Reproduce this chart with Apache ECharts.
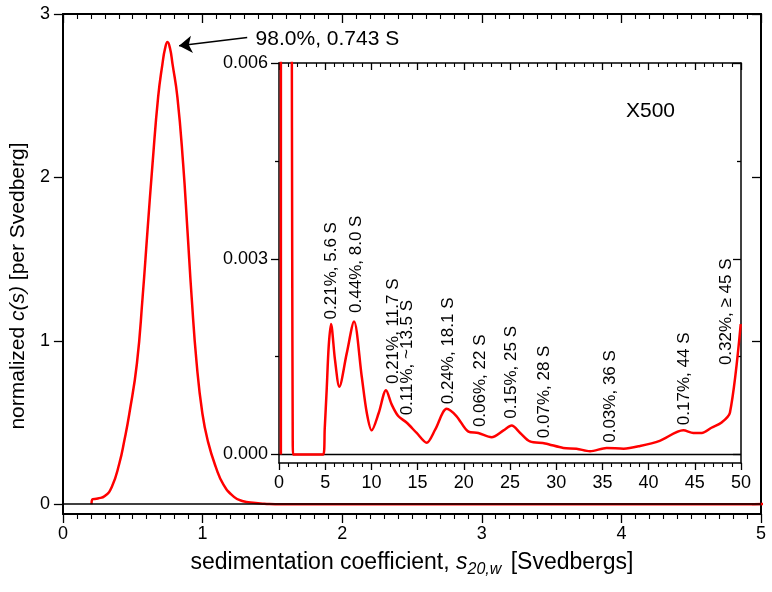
<!DOCTYPE html>
<html><head><meta charset="utf-8">
<script src="https://cdn.jsdelivr.net/npm/echarts@6/dist/echarts.min.js"></script>
<style>html,body{margin:0;padding:0;background:#fff}#c{width:772px;height:592px}</style>
</head><body><div id="c"></div>
<script>
// ---- data (s in Svedbergs, c(s) per Svedberg) ----
const sValues = [0.205,0.21,0.25,0.30,0.35,0.404,0.44,0.476,0.530,0.571,0.606,0.642,0.682,0.713,0.732,0.749,0.767,0.785,0.820,0.861,0.892,0.922,0.958,0.999,1.04,1.094,1.15,1.225,1.284,1.38,1.43,1.48,1.52,2.0,3.0,4.0,4.8,4.95,5.16,5.38,5.63,6.06,6.53,7.33,8.12,8.95,9.5,10.03,10.8,11.58,12.2,12.9,13.8,14.9,15.98,16.9,18.15,19.2,20.5,21.57,23.0,24.3,25.18,26.1,27.16,28.8,30.77,32.2,33.66,35.46,37.3,39.07,41.2,43.76,44.84,45.75,46.8,47.9,48.8,49.97];
const cValues = [0,0.028,0.035,0.05,0.105,0.249,0.39,0.555,0.861,1.268,1.676,2.084,2.491,2.695,2.79,2.828,2.79,2.695,2.491,2.084,1.676,1.268,0.861,0.555,0.38,0.23,0.12,0.045,0.02,0.007,0.003,0.0005,0,0,0,0,0,0.0004,0.00099,0.00166,0.0020,0.00145,0.00104,0.00155,0.00204,0.0012,0.00064,0.00037,0.00064,0.000985,0.000765,0.00059,0.00049,0.00033,0.00018,0.00038,0.0007,0.00059,0.00035,0.00033,0.000265,0.00037,0.000444,0.00033,0.0002,0.00017,0.0001,0.00009,0.00005,0.0001,0.00009,0.00013,0.00021,0.00037,0.00033,0.00033,0.00041,0.00049,0.00064,0.002];

const mainYTicks = [0,1,2,3];
const insetYTicks = [0,0.003,0.006];
const insetYMinor = [0.0015,0.0045];

const peakText = '98.0%, 0.743 S';
const peakArrowFrom = [1.32,2.856];
const peakArrowTo = [0.832,2.805];
const peakTextAt = [1.38,2.846];

const annoText = ['0.21%, 5.6 S','0.44%, 8.0 S','0.21%, 11.7 S','0.11%, ~13.5 S','0.24%, 18.1 S','0.06%, 22 S','0.15%, 25 S','0.07%, 28 S','0.03%, 36 S','0.17%, 44 S','0.32%, \u2265 45 S'];
const annoS = [5.70,8.40,12.37,13.89,18.32,21.75,25.18,28.68,35.82,43.86,48.45];
const annoC = [0.00207,0.00217,0.00108,0.00060,0.00077,0.00042,0.00055,0.00025,0.00018,0.00045,0.00137];

const FONT = '"Liberation Sans", Arial, Helvetica, sans-serif';
const curve = sValues.map((s,i)=>[s,cValues[i]]);
const annoData = annoText.map((t,i)=>({value:[annoS[i],annoC[i]], label:{formatter:t}}));

const black = '#000';
const gridMain = {left:60, right:11, top:14, bottom:78};
const gridInset = {left:279, right:31, top:63, bottom:129};

function xAx(grid, max, interval, pos, inside, minorSplit, len, minorLen, labels, lw, extra){
  return Object.assign({
    gridIndex:grid, type:'value', min:0, max:max, interval:interval, position:pos,
    axisLine:{show:true, onZero:false, lineStyle:{color:black, width:lw}},
    axisTick:{show:true, inside:inside, length:len, lineStyle:{color:black, width:1.3}},
    minorTick:{show:true, splitNumber:minorSplit, length:minorLen, lineStyle:{color:black, width:1.1}},
    axisLabel:{show:labels, fontSize:18, color:black, fontFamily:FONT, margin:11},
    splitLine:{show:false}, minorSplitLine:{show:false}
  }, extra||{});
}
function yAx(grid, min, max, pos, inside, ticks, len, labels, lw, showLine, extra){
  return Object.assign({
    gridIndex:grid, type:'value', min:min, max:max, position:pos,
    axisLine:{show:showLine, onZero:false, lineStyle:{color:black, width:lw}},
    axisTick:{show:true, inside:inside, length:len, customValues:ticks, lineStyle:{color:black, width:1.3}},
    axisLabel:{show:labels, customValues:ticks, fontSize:18, color:black, fontFamily:FONT, margin:13},
    splitLine:{show:false}
  }, extra||{});
}

const option = {
  animation:false,
  backgroundColor:'#fff',
  textStyle:{fontFamily:FONT},
  grid:[
    Object.assign({show:false}, gridMain),
    Object.assign({show:true, backgroundColor:'#fff', borderWidth:0}, gridInset),
    Object.assign({show:false}, gridInset)
  ],
  xAxis:[
    xAx(0,5,1,'bottom',false,10,9,5,true,2,{
      name:'sedimentation coefficient, {i|s}{sub|20,w} [Svedbergs]',
      nameLocation:'middle', nameGap:29,
      nameTextStyle:{fontSize:23, color:black, fontFamily:FONT, lineHeight:30,
        rich:{i:{fontSize:23, fontStyle:'italic', fontFamily:FONT, lineHeight:30},
              sub:{fontSize:16, fontStyle:'italic', fontFamily:FONT, verticalAlign:'bottom', lineHeight:16, padding:[0,3,0,0]}}}
    }),
    xAx(0,5,1,'top',true,10,9,5,false,2),
    xAx(1,50,5,'bottom',false,5,7,4,true,1.5),
    xAx(1,50,5,'top',true,5,7,4,false,1.5),
    {gridIndex:2, type:'value', min:0, max:50, show:false}
  ],
  yAxis:[
    yAx(0,-0.06,3,'left',false,mainYTicks,9,true,2,true,{
      name:'normalized {i|c(s)} [per Svedberg]', nameLocation:'middle', nameGap:30,
      nameTextStyle:{fontSize:21, color:black, fontFamily:FONT, padding:[0,44,0,0], rich:{i:{fontSize:21, fontStyle:'italic', fontFamily:FONT}}}
    }),
    yAx(0,-0.06,3,'right',true,mainYTicks,9,false,2,true),
    yAx(1,-0.00013,0.006,'left',false,insetYTicks,8,true,1.5,true,{
      axisLabel:{customValues:insetYTicks, fontSize:18, color:black, fontFamily:FONT, margin:11, formatter:v=>v.toFixed(3)}
    }),
    yAx(1,-0.00013,0.006,'right',true,insetYTicks,8,false,1.5,true),
    yAx(2,-0.00013,0.006,'left',false,insetYMinor,4,false,1.5,false),
    yAx(2,-0.00013,0.006,'right',true,insetYMinor,4,false,1.5,false)
  ],
  series:[
    {type:'line', xAxisIndex:0, yAxisIndex:0, data:[], z:1, silent:true,
     markLine:{silent:true, symbol:'none', label:{show:false}, lineStyle:{color:black, width:1.5, type:'solid'}, data:[{yAxis:0}]}},
    {type:'line', xAxisIndex:0, yAxisIndex:0, data:curve, z:3, showSymbol:false, smooth:0.5, clip:true,
     lineStyle:{color:'#ff0000', width:2.5}},
    {type:'line', xAxisIndex:0, yAxisIndex:0, data:[], z:5, silent:true,
     markLine:{silent:true, symbol:['none','arrow'], symbolSize:13, label:{show:false},
       itemStyle:{color:black},
       lineStyle:{color:black, width:1.5, type:'solid'},
       data:[[{coord:peakArrowFrom},{coord:peakArrowTo}]]}},
    {type:'scatter', xAxisIndex:0, yAxisIndex:0, symbolSize:0, silent:true, z:5,
     itemStyle:{opacity:1},
     data:[{value:peakTextAt}],
     label:{show:true, opacity:1, formatter:peakText, position:[0,0], align:'left', verticalAlign:'middle', fontSize:21, color:black, fontFamily:FONT}},
    {type:'line', xAxisIndex:2, yAxisIndex:2, data:[], z:4, silent:true,
     markLine:{silent:true, symbol:'none', label:{show:false}, lineStyle:{color:black, width:1.3, type:'solid'}, data:[{yAxis:0}]}},
    {type:'line', xAxisIndex:2, yAxisIndex:2, data:curve, z:6, showSymbol:false, smooth:0.3, clip:true,
     lineStyle:{color:'#ff0000', width:2.5}},
    {type:'scatter', xAxisIndex:2, yAxisIndex:2, symbolSize:0, silent:true, z:7,
     itemStyle:{opacity:1},
     data:annoData,
     label:{show:true, opacity:1, position:[0,0], rotate:90, align:'left', verticalAlign:'middle', fontSize:17, color:black, fontFamily:FONT}}
  ],
  graphic:[
    {type:'text', left:626, top:101, z:100, style:{text:'X500', fontSize:21, fill:black, fontFamily:FONT}}
  ]
};
const chart = echarts.init(document.getElementById('c'));
chart.setOption(option);
</script>
</body></html>
